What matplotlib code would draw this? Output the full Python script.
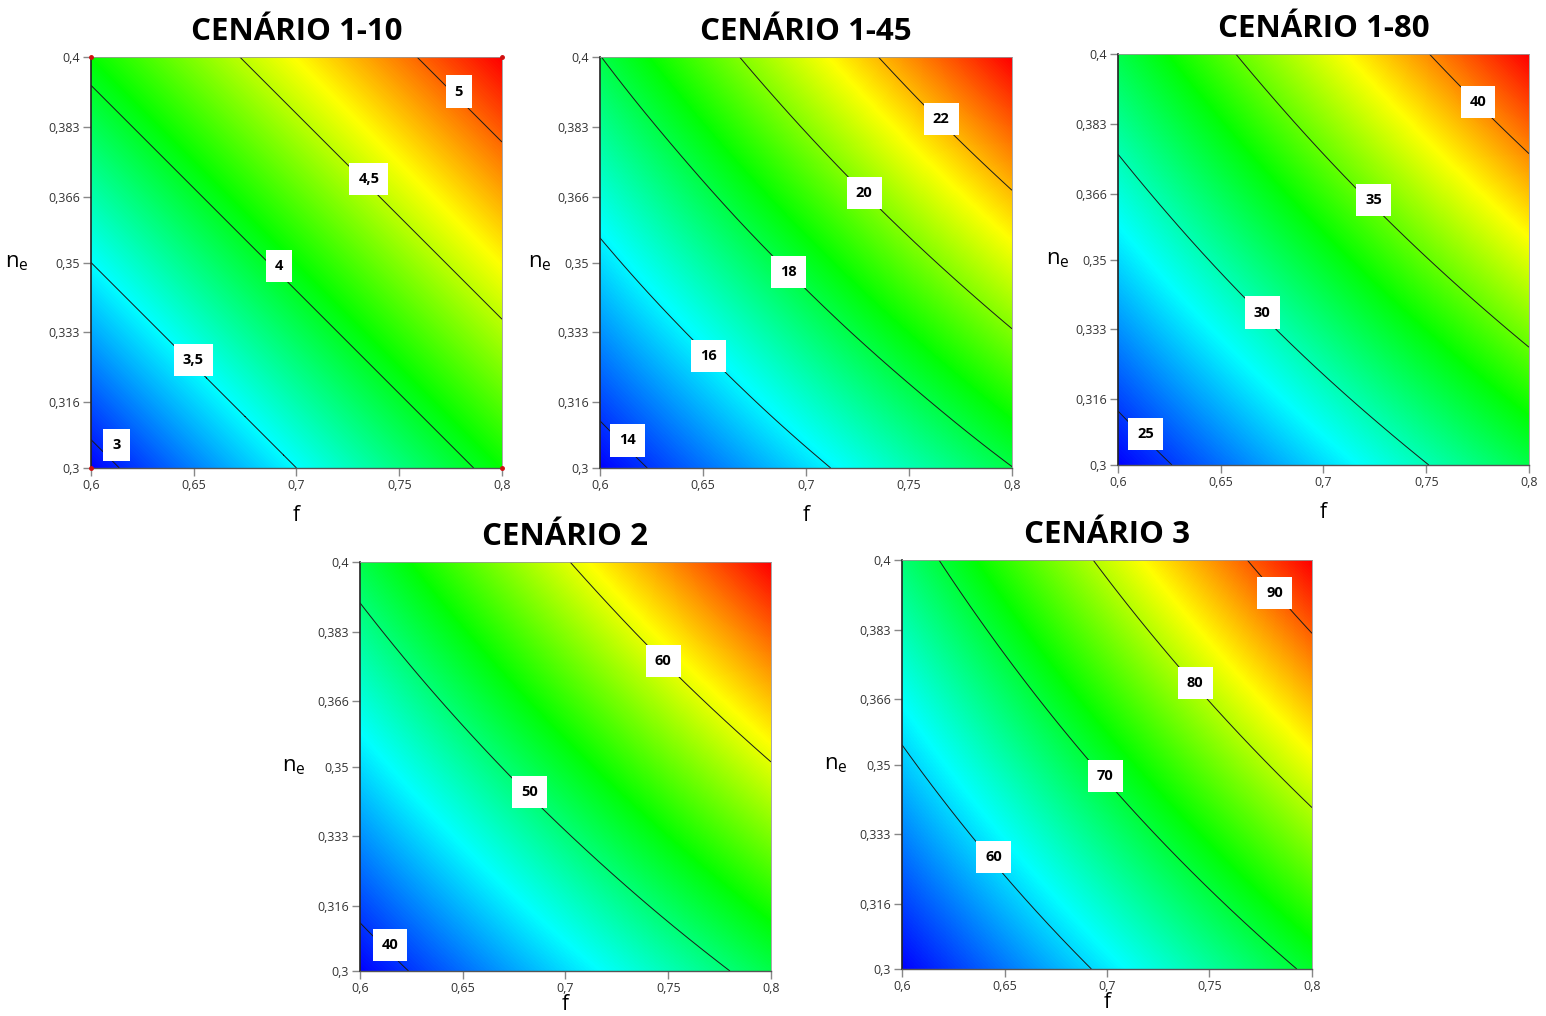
import numpy as np
import matplotlib
matplotlib.use('Agg')
import matplotlib.pyplot as plt
import matplotlib.tri as mtri
from matplotlib.colors import LinearSegmentedColormap

plt.rcParams['font.family'] = ['Open Sans', 'DejaVu Sans']

# --- grid of the response surfaces (f on columns, n_e on rows, n_e = 0.3 first) ---
f_grid = [0.6, 0.65, 0.7, 0.75, 0.8]
ne_grid = [0.3, 0.325, 0.35, 0.375, 0.4]

z_1_10 = [
    [2.92, 3.21, 3.50, 3.79, 4.08],
    [3.21, 3.50, 3.79, 4.08, 4.37],
    [3.50, 3.79, 4.08, 4.37, 4.66],
    [3.79, 4.08, 4.37, 4.66, 4.95],
    [4.08, 4.37, 4.66, 4.95, 5.24],
]
z_1_45 = [
    [13.48, 14.61, 15.73, 16.86, 17.98],
    [14.61, 15.82, 17.04, 18.25, 19.47],
    [15.73, 17.04, 18.34, 19.65, 20.96],
    [16.86, 18.25, 19.65, 21.05, 22.44],
    [17.98, 19.47, 20.96, 22.44, 23.93],
]
z_1_80 = [
    [23.95, 25.95, 27.95, 29.95, 31.95],
    [25.95, 28.11, 30.28, 32.44, 34.61],
    [27.95, 30.28, 32.61, 34.94, 37.27],
    [29.95, 32.44, 34.94, 37.43, 39.92],
    [31.95, 34.61, 37.27, 39.92, 42.58],
]
z_2 = [
    [38.49, 41.69, 44.89, 48.08, 51.28],
    [41.69, 45.15, 48.61, 52.08, 55.55],
    [44.89, 48.61, 52.35, 56.08, 59.81],
    [48.08, 52.08, 56.08, 60.08, 64.07],
    [51.28, 55.55, 59.81, 64.07, 68.34],
]
z_3 = [
    [50.78, 55.77, 60.76, 65.75, 70.74],
    [54.99, 60.39, 65.80, 71.20, 76.61],
    [59.19, 65.01, 70.83, 76.65, 82.47],
    [63.40, 69.63, 75.87, 82.10, 88.34],
    [67.60, 74.25, 80.90, 87.55, 94.20],
]

titles = ['CENÁRIO 1-10', 'CENÁRIO 1-45', 'CENÁRIO 1-80', 'CENÁRIO 2', 'CENÁRIO 3']
surfaces = [z_1_10, z_1_45, z_1_80, z_2, z_3]
levels = [
    [3, 3.5, 4, 4.5, 5],
    [14, 16, 18, 20, 22],
    [25, 30, 35, 40],
    [40, 50, 60],
    [60, 70, 80, 90],
]
# where the contour labels sit (f, n_e)
label_pos = [
    [(0.6125, 0.3055), (0.6498, 0.3262), (0.6916, 0.3492), (0.7352, 0.3703), (0.779, 0.3916)],
    [(0.6133, 0.3067), (0.6526, 0.3272), (0.6916, 0.3478), (0.7282, 0.367), (0.7656, 0.385)],
    [(0.6133, 0.3075), (0.6702, 0.3371), (0.7244, 0.3645), (0.7752, 0.3884)],
    [(0.6146, 0.3063), (0.6824, 0.3438), (0.7476, 0.3758)],
    [(0.6448, 0.3273), (0.6992, 0.3473), (0.743, 0.3699), (0.7818, 0.3919)],
]

# design points shown as small red dots on the first panel
design_f = [0.6, 0.8, 0.6, 0.8]
design_ne = [0.3, 0.3, 0.4, 0.4]

xticks = [0.6, 0.65, 0.7, 0.75, 0.8]
yticks = [0.3, 0.316, 0.333, 0.35, 0.366, 0.383, 0.4]
xtick_labels = ['0,6', '0,65', '0,7', '0,75', '0,8']
ytick_labels = ['0,3', '0,316', '0,333', '0,35', '0,366', '0,383', '0,4']

# axes rectangles in figure fractions (1546 x 1016 px)
rects = [
    [91 / 1546, 1 - 468 / 1016, 411 / 1546, 411 / 1016],
    [600 / 1546, 1 - 468 / 1016, 412 / 1546, 411 / 1016],
    [1118 / 1546, 1 - 465 / 1016, 411 / 1546, 411 / 1016],
    [360 / 1546, 1 - 971 / 1016, 411 / 1546, 409 / 1016],
    [902 / 1546, 1 - 969 / 1016, 410 / 1546, 409 / 1016],
]
ylabel_pads = [14, 4, 4, 8, 8]
xlabel_pads = [9, 9, 9, -1, -1]

cmap = LinearSegmentedColormap.from_list(
    'rsm', ['#0000ff', '#00ffff', '#00ff00', '#ffff00', '#ff0000'])

# triangles of the 5x5 grid (two per cell)
nx, ny = len(f_grid), len(ne_grid)
F, N = np.meshgrid(f_grid, ne_grid)
tris = []
for j in range(ny - 1):
    for i in range(nx - 1):
        a = j * nx + i
        tris.append([a, a + 1, a + nx + 1])
        tris.append([a, a + nx + 1, a + nx])
triang = mtri.Triangulation(F.ravel(), N.ravel(), tris)
refiner = mtri.UniformTriRefiner(triang)

fig = plt.figure(figsize=(15.46, 10.16), dpi=100)

for k in range(5):
    ax = fig.add_axes(rects[k])
    Z = np.array(surfaces[k])
    tri_fine, z_fine = refiner.refine_field(Z.ravel(), subdiv=3)

    fill_levels = np.linspace(Z.min(), Z.max(), 256)
    cf = ax.tricontourf(tri_fine, z_fine, levels=fill_levels, cmap=cmap,
                        extend='both')
    cf.set_edgecolor('face')
    cf.set_linewidth(0.3)

    ax.tricontour(tri_fine, z_fine, levels=levels[k], colors='#1a1a1a', linewidths=0.7)
    for lev, (x, y) in zip(levels[k], label_pos[k]):
        ax.text(x, y, f'{lev:g}'.replace('.', ','), fontsize=10.5, fontweight='bold',
                ha='center', va='center', color='black', zorder=4,
                bbox=dict(facecolor='white', edgecolor='none', boxstyle='square,pad=0.62'))

    if k == 0:
        ax.plot(design_f, design_ne, 'o', color='#d01010', markersize=2.5, clip_on=False, zorder=5)

    ax.set_xlim(0.6, 0.8)
    ax.set_ylim(0.3, 0.4)
    ax.set_xticks(xticks)
    ax.set_xticklabels(xtick_labels)
    ax.set_yticks(yticks)
    ax.set_yticklabels(ytick_labels)
    ax.tick_params(direction='out', length=6, width=1, color='#888888',
                   labelsize=9, labelcolor='#333333', pad=2)

    for side in ['top', 'right']:
        ax.spines[side].set_color('#999999')
        ax.spines[side].set_linewidth(0.6)
    ax.spines['left'].set_color('#222222')
    ax.spines['bottom'].set_color('#555555')
    ax.spines['left'].set_linewidth(1.2)
    ax.spines['bottom'].set_linewidth(1.0)

    ax.set_xlabel('f', fontsize=15, labelpad=xlabel_pads[k])
    ax.set_ylabel(r'$\mathregular{n_e}$', fontsize=16, rotation=0,
                  va='center', ha='right', labelpad=ylabel_pads[k])
    ax.set_title(titles[k], fontsize=22.5, fontweight='bold', pad=12)

fig.savefig('out.png', dpi=100)
